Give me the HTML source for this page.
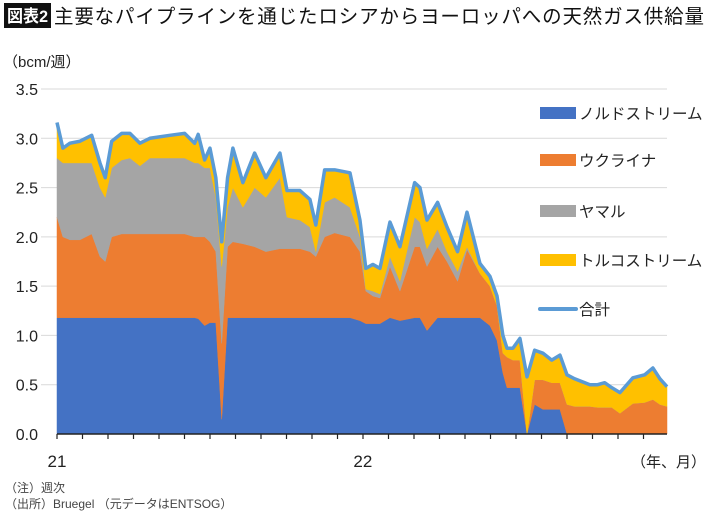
<!DOCTYPE html>
<html><head><meta charset="utf-8">
<style>
body{margin:0;width:710px;height:516px;background:#fff;overflow:hidden;font-family:"Liberation Sans","Noto Sans CJK JP",sans-serif;}
</style></head><body>
<svg id="c" width="710" height="516" xmlns="http://www.w3.org/2000/svg">
<rect x="4" y="3" width="47" height="25" fill="#111"/>
<text x="7" y="22" fill="#fff" font-size="17" font-weight="bold" textLength="41" lengthAdjust="spacingAndGlyphs" font-family="'Liberation Sans','Noto Sans CJK JP',sans-serif">図表2</text>
<text x="54" y="23" fill="#111" font-size="19.5" font-family="'Liberation Sans','Noto Sans CJK JP',sans-serif" textLength="650">主要なパイプラインを通じたロシアからヨーロッパへの天然ガス供給量</text>
<text x="3" y="67" fill="#222" font-size="15" font-family="'Liberation Sans','Noto Sans CJK JP',sans-serif">（bcm/週）</text>
<g id="grid"></g>
<g id="areas"></g>
<g id="axes"></g>
<g id="legend"></g>
<text x="5" y="492" fill="#444" font-size="12" font-family="'Liberation Sans','Noto Sans CJK JP',sans-serif">（注）週次</text>
<text x="5" y="508" fill="#444" font-size="12" font-family="'Liberation Sans','Noto Sans CJK JP',sans-serif">（出所）Bruegel （元データはENTSOG）</text>
</svg>
<script>
const weeks=[0,1,2.2,3.9,5.9,7.3,8.2,9.3,11,12.4,14.1,15.8,19.2,21.7,23.4,24,25.1,26,27,28,29,29.9,31.6,33.6,35.5,37.9,39.1,41.3,43,44,45.5,47.2,49.8,51.5,52.5,53.7,54.9,56.6,58.3,60.8,61.7,62.9,64.7,66.3,68.1,69.7,71.9,73.6,74.8,75.8,76.5,77.5,78.7,79.9,81.2,82.6,84.1,85.5,86.7,88,90.6,91.9,93.1,94.3,95.7,97.9,99.9,101.3,102.5,103.7];
const nordStream=[1.18,1.18,1.18,1.18,1.18,1.18,1.18,1.18,1.18,1.18,1.18,1.18,1.18,1.18,1.18,1.17,1.1,1.13,1.13,0.15,1.18,1.18,1.18,1.18,1.18,1.18,1.18,1.18,1.18,1.18,1.18,1.18,1.18,1.15,1.12,1.12,1.12,1.18,1.15,1.18,1.18,1.05,1.18,1.18,1.18,1.18,1.18,1.1,0.95,0.62,0.47,0.47,0.47,0,0.3,0.25,0.25,0.25,0,0,0,0,0,0,0,0,0,0,0,0];
const ukraine=[1.02,0.82,0.79,0.79,0.85,0.62,0.57,0.82,0.85,0.85,0.85,0.85,0.85,0.85,0.82,0.83,0.9,0.82,0.72,0.77,0.72,0.77,0.75,0.72,0.67,0.7,0.7,0.7,0.67,0.62,0.82,0.86,0.82,0.7,0.33,0.28,0.26,0.52,0.3,0.72,0.72,0.65,0.72,0.57,0.37,0.69,0.45,0.4,0.35,0.2,0.31,0.28,0.28,0,0.25,0.3,0.27,0.27,0.3,0.28,0.28,0.27,0.27,0.27,0.21,0.31,0.32,0.35,0.3,0.28];
const yamal=[0.6,0.75,0.78,0.78,0.72,0.7,0.65,0.7,0.75,0.77,0.69,0.77,0.77,0.77,0.75,0.75,0.7,0.75,0.55,0.78,0.4,0.55,0.37,0.6,0.55,0.72,0.32,0.29,0.25,0.05,0.35,0.36,0.3,0.15,0.02,0.05,0.04,0.1,0.1,0.3,0.25,0.18,0.18,0.1,0.1,0.03,0,0,0,0,0,0,0,0,0,0,0,0,0,0,0,0,0,0,0,0,0,0,0,0];
const turkStream=[0.36,0.15,0.2,0.22,0.28,0.25,0.2,0.27,0.27,0.25,0.23,0.2,0.23,0.25,0.2,0.29,0.08,0.2,0.2,0.25,0.3,0.4,0.25,0.35,0.2,0.25,0.27,0.3,0.28,0.27,0.33,0.28,0.35,0.17,0.21,0.27,0.26,0.35,0.35,0.35,0.35,0.29,0.27,0.25,0.2,0.35,0.1,0.1,0.1,0.18,0.09,0.12,0.22,0.58,0.3,0.27,0.23,0.28,0.3,0.28,0.22,0.23,0.25,0.2,0.21,0.26,0.28,0.32,0.26,0.2];
const yTicks=[0,0.5,1,1.5,2,2.5,3,3.5];
const yTickLabels=["0.0","0.5","1.0","1.5","2.0","2.5","3.0","3.5"];
const xLabels=["21","22"];
const xLabelWeeks=[0,52];
const seriesNames=["ノルドストリーム","ウクライナ","ヤマル","トルコストリーム"];
const seriesKeys=["nord-stream","ukraine","yamal","turk-stream"];
const colors=["#4472c4","#ed7d31","#a5a5a5","#ffc000"];

const NS="http://www.w3.org/2000/svg";
const X0=57,X1=667,Y0=434,Y1=89,WMAX=103.7;
const xs=w=>X0+(w/WMAX)*(X1-X0);
const ys=v=>Y0-(v/3.5)*(Y0-Y1);
function mk(t,a,p){const e=document.createElementNS(NS,t);for(const k in a)e.setAttribute(k,a[k]);p.appendChild(e);return e;}
const grid=document.getElementById('grid'),areas=document.getElementById('areas'),axes=document.getElementById('axes'),leg=document.getElementById('legend');
yTicks.forEach((v,i)=>{
  if(v>0){const l=mk('line',{x1:41,x2:X1,y1:ys(v),y2:ys(v),stroke:'#d9d9d9','stroke-width':1},grid);
  
  }
  const t=mk('text',{x:38,y:ys(v)+6,'text-anchor':'end','font-size':16,fill:'#222'},axes);
  t.textContent=yTickLabels[i];
  
  
});
const all=[nordStream,ukraine,yamal,turkStream];
let base=weeks.map(()=>0);
all.forEach((s,si)=>{
  const top=s.map((v,i)=>base[i]+v);
  let d='M'+weeks.map((w,i)=>xs(w)+','+ys(top[i])).join('L');
  for(let i=weeks.length-1;i>=0;i--)d+='L'+xs(weeks[i])+','+ys(base[i]);
  d+='Z';
  const p=mk('path',{d:d,fill:colors[si],stroke:colors[si],'stroke-width':0.5},areas);
  
  
  base=top;
});
const tl=mk('polyline',{points:weeks.map((w,i)=>xs(w)+','+ys(base[i])).join(' '),fill:'none',stroke:'#5b9bd5','stroke-width':3.5,'stroke-linejoin':'round'},areas);


const ax=mk('line',{x1:X0,x2:X1,y1:Y0,y2:Y0,stroke:'#222','stroke-width':1.5},axes);


for(let m=0;m<=24;m++){const x=X0+m*25.5;if(x>X1+1)break;
  const t=mk('line',{x1:x,x2:x,y1:Y0,y2:Y0+5,stroke:'#222','stroke-width':1.2},axes);
  
  }
xLabels.forEach((l,i)=>{const t=mk('text',{x:xs(xLabelWeeks[i]),y:467,'text-anchor':'middle','font-size':17,fill:'#222'},axes);
  t.textContent=l;
  
  });
const yu=mk('text',{x:706,y:467,'text-anchor':'end','font-size':15,fill:'#222'},axes);
yu.textContent='（年、月）';


const legY=[113,160,211,260];
seriesNames.forEach((n,i)=>{
  const r=mk('rect',{x:540,y:legY[i]-6,width:36,height:12,fill:colors[i]},leg);
  
  
  const t=mk('text',{x:579,y:legY[i]+6,'font-size':15.5,fill:'#222'},leg);
  t.textContent=n;
  
  
});
const ll=mk('line',{x1:540,x2:576,y1:309,y2:309,stroke:'#5b9bd5','stroke-width':4,'stroke-linecap':'round'},leg);


const lt=mk('text',{x:579,y:315,'font-size':15.5,fill:'#222'},leg);
lt.textContent='合計';


</script>
</body></html>
